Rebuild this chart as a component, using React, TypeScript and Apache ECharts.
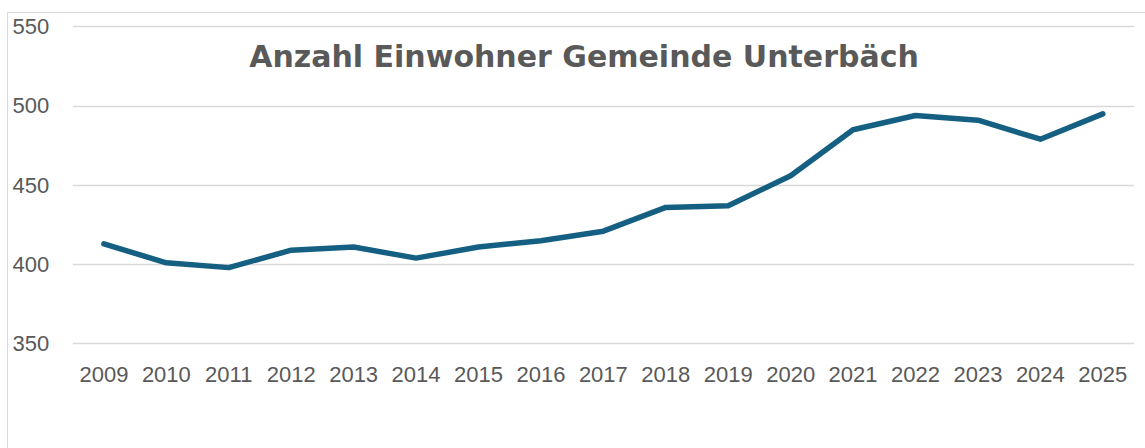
import React, { useEffect, useRef } from "react";
import * as echarts from "echarts";

const years = ["2009", "2010", "2011", "2012", "2013", "2014", "2015", "2016", "2017", "2018", "2019", "2020", "2021", "2022", "2023", "2024", "2025"];
const residents = [413, 401, 398, 409, 411, 404, 411, 415, 421, 436, 437, 456, 485, 494, 491, 479, 495];
const titleText = "Anzahl Einwohner Gemeinde Unterbäch";

export default function App() {
  const ref = useRef<HTMLDivElement>(null);
  useEffect(() => {
    if (!ref.current) return;
    const chart = echarts.init(ref.current, undefined, { renderer: "svg" });
    chart.setOption({
      animation: false,
      backgroundColor: "#ffffff",
      grid: { left: 72.7, right: 11, top: 26.7, bottom: 104.3, containLabel: false },
      graphic: [
        {
          type: "rect",
          shape: { x: 7.5, y: 12.5, width: 1300, height: 600 },
          style: { fill: "none", stroke: "#D9D9D9", lineWidth: 1 },
          silent: true,
          z: -1,
        },
        {
          type: "text",
          x: 584,
          y: 56,
          style: {
            text: titleText,
            fill: "#595959",
            font: "bold 30px 'DejaVu Sans'",
            textAlign: "center",
            textVerticalAlign: "middle",
          },
        },
      ],
      xAxis: {
        type: "category",
        data: years,
        boundaryGap: true,
        axisLine: { show: false },
        axisTick: { show: false },
        axisLabel: { interval: 0, hideOverlap: false, color: "#595959", fontSize: 22, fontFamily: "'Liberation Sans', Arial", margin: 20 },
      },
      yAxis: {
        type: "value",
        min: 350,
        max: 550,
        interval: 50,
        axisLine: { show: false },
        axisTick: { show: false },
        axisLabel: { color: "#595959", fontSize: 22, fontFamily: "'Liberation Sans', Arial", margin: 23.5 },
        splitLine: { lineStyle: { color: "#D9D9D9", width: 1.3 } },
      },
      series: [
        {
          type: "line",
          data: residents,
          symbol: "none",
          lineStyle: { color: "#156082", width: 5.5, cap: "round", join: "round" },
        },
      ],
    });
    return () => chart.dispose();
  }, []);
  return <div ref={ref} style={{ position: "absolute", left: 0, top: 0, width: 1145, height: 448 }} />;
}
